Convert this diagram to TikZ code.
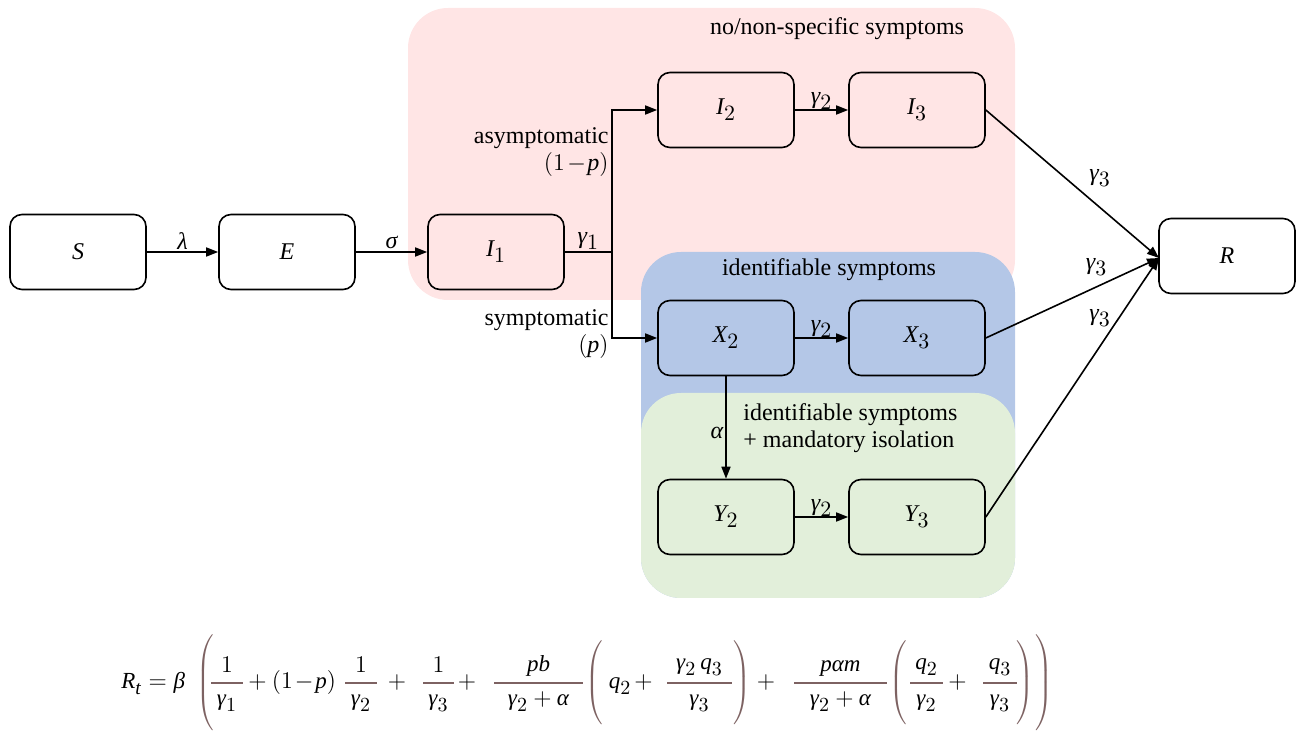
\documentclass[tikz,border=0pt]{standalone}
\usepackage{fontspec}
\setmainfont{Liberation Serif}
\DeclareSymbolFont{letters}{TU}{\rmdefault}{m}{it}
\DeclareSymbolFont{operators}{TU}{\rmdefault}{m}{n}
\Umathchardef\beta="7 \symletters "03B2
\Umathchardef\gamma="7 \symletters "03B3
\Umathchardef\lambda="7 \symletters "03BB
\Umathchardef\sigma="7 \symletters "03C3
\Umathchardef\alpha="7 \symletters "03B1
\DeclareMathSizes{12}{12}{10.5}{8}
\DeclareMathSizes{11.5}{11.5}{9.8}{8}
\usetikzlibrary{arrows.meta}
\definecolor{pinkbg}{RGB}{255,229,229}
\definecolor{bluebg}{RGB}{180,199,231}
\definecolor{greenbg}{RGB}{226,239,218}
\definecolor{brn}{RGB}{125,98,98}
\everymath{\fontdimen16\textfont2=3pt\fontdimen17\textfont2=3pt}
% fraction with brown bar: #1 width, #2 numerator, #3 denominator
\newcommand\myfrac[3]{{\nulldelimiterspace=0pt$\displaystyle{\color{brn}{\color{black}#2}\above1pt\hbox to #1{\hfil\color{black}$\textstyle#3$\hfil}}$}}
\newcommand\bigL[1]{{\nulldelimiterspace=0pt\color{brn}$\left(\vcenter{\hbox{\rule{0pt}{#1}}}\right.$}}
\newcommand\bigR[1]{{\nulldelimiterspace=0pt\color{brn}$\left.\vcenter{\hbox{\rule{0pt}{#1}}}\right)$}}
\begin{document}
\begin{tikzpicture}[x=0.5pt,y=-0.5pt, font=\fontsize{12}{13.5}\selectfont,
  box/.style={draw, line width=0.8pt, rounded corners=6pt, minimum width=68pt, minimum height=37.5pt, inner sep=0pt},
  region/.style={rounded corners=20pt},
  arr/.style={-{Triangle[length=6pt,width=4.5pt]}, line width=0.8pt},
  plain/.style={line width=0.8pt},
  lbl/.style={inner sep=1pt},
  frm/.style={anchor=base, inner sep=0pt, font=\fontsize{11.5}{13}\selectfont}]
\useasboundingbox (0,0) rectangle (1298,731);
% regions
\fill[pinkbg, region] (408,8) rectangle (1015,300);
\fill[bluebg, region] (641,252) rectangle (1015,598);
\fill[greenbg, region] (641,393) rectangle (1015,598);
\node (nolabel) at (837,29) {no/non-specific symptoms};
\node (idlabel) at (829,270) {identifiable symptoms};
\node[anchor=north west, align=left, inner sep=0pt] (isolabel) at (743,403) {identifiable symptoms\\+ mandatory isolation};
% compartments
\node[box] (S) at (78,252) {$S$};
\node[box] (E) at (287,252) {$E$};
\node[box] (I1) at (496,252) {$I_1$};
\node[box] (I2) at (726,110) {$I_2$};
\node[box] (I3) at (917,110) {$I_3$};
\node[box] (X2) at (726,338) {$X_2$};
\node[box] (X3) at (917,338) {$X_3$};
\node[box] (Y2) at (726,517) {$Y_2$};
\node[box] (Y3) at (917,517) {$Y_3$};
\node[box] (R) at (1227,256) {$R$};
\coordinate (J) at (612,252);
\coordinate (Rin) at (1159,258);
% connectors
\draw[arr] (S) -- node[above,lbl]{$\lambda$} (E);
\draw[arr] (E) -- node[above,lbl]{$\sigma$} (I1);
\draw[plain] (I1) -- node[above,lbl]{$\gamma_1$} (J);
\draw[arr] (J) |- (I2);
\draw[arr] (J) |- (X2);
\node[anchor=east, align=right, inner sep=1pt] (asy) at (611,152) {asymptomatic\\$(1\mskip2mu{-}\mskip1mu p)$};
\node[anchor=east, align=right, inner sep=1pt] (sym) at (611,334) {symptomatic\\$(p)$};
\draw[arr] (I2) -- node[above,lbl,yshift=-1pt]{$\gamma_2$} (I3);
\draw[arr] (X2) -- node[above,lbl,yshift=-1pt]{$\gamma_2$} (X3);
\draw[arr] (Y2) -- node[above,lbl,yshift=-1pt]{$\gamma_2$} (Y3);
\draw[arr] (X2) -- node[left,lbl,pos=0.55]{$\alpha$} (Y2);
\draw[arr] (I3.east) -- node[pos=0.66, yshift=15pt]{$\gamma_3$} (Rin);
\draw[arr] (X3.east) -- node[pos=0.64, yshift=10pt]{$\gamma_3$} (Rin);
\draw[arr] (Y3.east) -- node[pos=0.66, yshift=14pt]{$\gamma_3$} (Rin);
% formula (pieces placed on a common baseline)
\node[frm, anchor=base west] (fR) at (121,689) {$R_t = \beta$};
\node[frm] (fL1) at (205,689) {\bigL{48pt}};
\node[frm] (fa) at (227,689) {\myfrac{16pt}{1}{\gamma_1}};
\node[frm] (fp1) at (257.5,689) {$+$};
\node[frm] (fb) at (304,689) {$(1\mskip1.5mu{-}\mskip1.5mu p)$};
\node[frm] (fc) at (361,689) {\myfrac{16pt}{1}{\gamma_2}};
\node[frm] (fp2) at (397,689) {$+$};
\node[frm] (fd) at (438.5,689) {\myfrac{15.5pt}{1}{\gamma_3}};
\node[frm] (fp3) at (467,689) {$+$};
\node[frm] (fe) at (538.5,689) {\myfrac{44.5pt}{p b}{\gamma_2+\alpha}};
\node[frm] (fL2) at (594,689) {\bigL{42pt}};
\node[frm] (fq) at (620,689) {$q_2$};
\node[frm] (fp4) at (643.5,689) {$+$};
\node[frm] (ff) at (699.5,689) {\myfrac{32.5pt}{\gamma_2\, q_3}{\gamma_3}};
\node[frm] (fR2) at (742.5,689) {\bigR{42pt}};
\node[frm] (fp5) at (766,689) {$+$};
\node[frm] (fg) at (840.5,689) {\myfrac{46.5pt}{p\alpha m}{\gamma_2+\alpha}};
\node[frm] (fL3) at (898.5,689) {\bigL{42pt}};
\node[frm] (fh) at (926.5,689) {\myfrac{16.5pt}{q_2}{\gamma_2}};
\node[frm] (fp6) at (957.5,689) {$+$};
\node[frm] (fi) at (1000,689) {\myfrac{17pt}{q_3}{\gamma_3}};
\node[frm] (fR3) at (1025.5,689) {\bigR{42pt}};
\node[frm] (fR4) at (1044,689) {\bigR{48pt}};
\end{tikzpicture}
\end{document}
